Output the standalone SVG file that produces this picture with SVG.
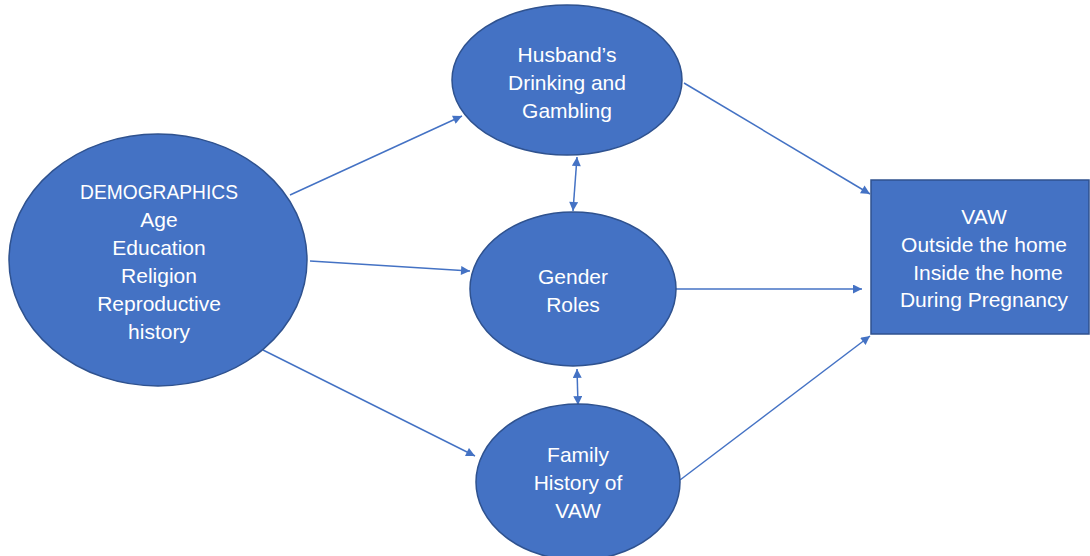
<svg xmlns="http://www.w3.org/2000/svg" width="1090" height="556" viewBox="0 0 1090 556">
<defs>
<marker id="ah" viewBox="0 0 10 10" refX="10" refY="5" markerWidth="10" markerHeight="9" markerUnits="userSpaceOnUse" orient="auto-start-reverse">
<path d="M0,0 L10,5 L0,10 z" fill="#4472C4"/>
</marker>
<style>
.n{fill:#4472C4;stroke:#2F528F;stroke-width:1.5}
.t{fill:#fff;font-family:"Liberation Sans",Arial,sans-serif;font-size:21px;text-anchor:middle}
.c{stroke:#4472C4;stroke-width:1.5;fill:none;marker-end:url(#ah)}
.b{marker-start:url(#ah)}
</style>
</defs>
<rect width="1090" height="556" fill="#fff"/>
<g id="connectors">
<line class="c" x1="290" y1="195" x2="462" y2="116"/>
<line class="c" x1="310" y1="261" x2="470" y2="271"/>
<line class="c" x1="263" y1="350" x2="475" y2="456"/>
<line class="c" x1="684" y1="83" x2="870" y2="194"/>
<line class="c" x1="676" y1="289" x2="862" y2="289"/>
<line class="c" x1="680" y1="480" x2="870" y2="336"/>
<line class="c b" x1="577" y1="157" x2="573" y2="211"/>
<line class="c b" x1="577" y1="369" x2="578" y2="405"/>
</g>
<g id="demographics">
<ellipse class="n" cx="158" cy="260" rx="149" ry="126"/>
<text class="t" x="159" y="199" textLength="158" lengthAdjust="spacingAndGlyphs">DEMOGRAPHICS</text>
<text class="t" x="159" y="227">Age</text>
<text class="t" x="159" y="255">Education</text>
<text class="t" x="159" y="283">Religion</text>
<text class="t" x="159" y="311">Reproductive</text>
<text class="t" x="159" y="339">history</text>
</g>
<g id="husband">
<ellipse class="n" cx="567" cy="80" rx="115" ry="75"/>
<text class="t" x="567" y="62">Husband’s</text>
<text class="t" x="567" y="90">Drinking and</text>
<text class="t" x="567" y="118">Gambling</text>
</g>
<g id="gender">
<ellipse class="n" cx="573" cy="289" rx="103" ry="77"/>
<text class="t" x="573" y="284">Gender</text>
<text class="t" x="573" y="312">Roles</text>
</g>
<g id="family">
<ellipse class="n" cx="578" cy="482" rx="102" ry="78"/>
<text class="t" x="578" y="462">Family</text>
<text class="t" x="578" y="490">History of</text>
<text class="t" x="578" y="518">VAW</text>
</g>
<g id="vaw">
<rect class="n" x="871" y="180" width="218" height="154"/>
<text class="t" x="984" y="224">VAW</text>
<text class="t" x="984" y="252">Outside the home</text>
<text class="t" x="988" y="280">Inside the home</text>
<text class="t" x="984" y="307">During Pregnancy</text>
</g>
</svg>
